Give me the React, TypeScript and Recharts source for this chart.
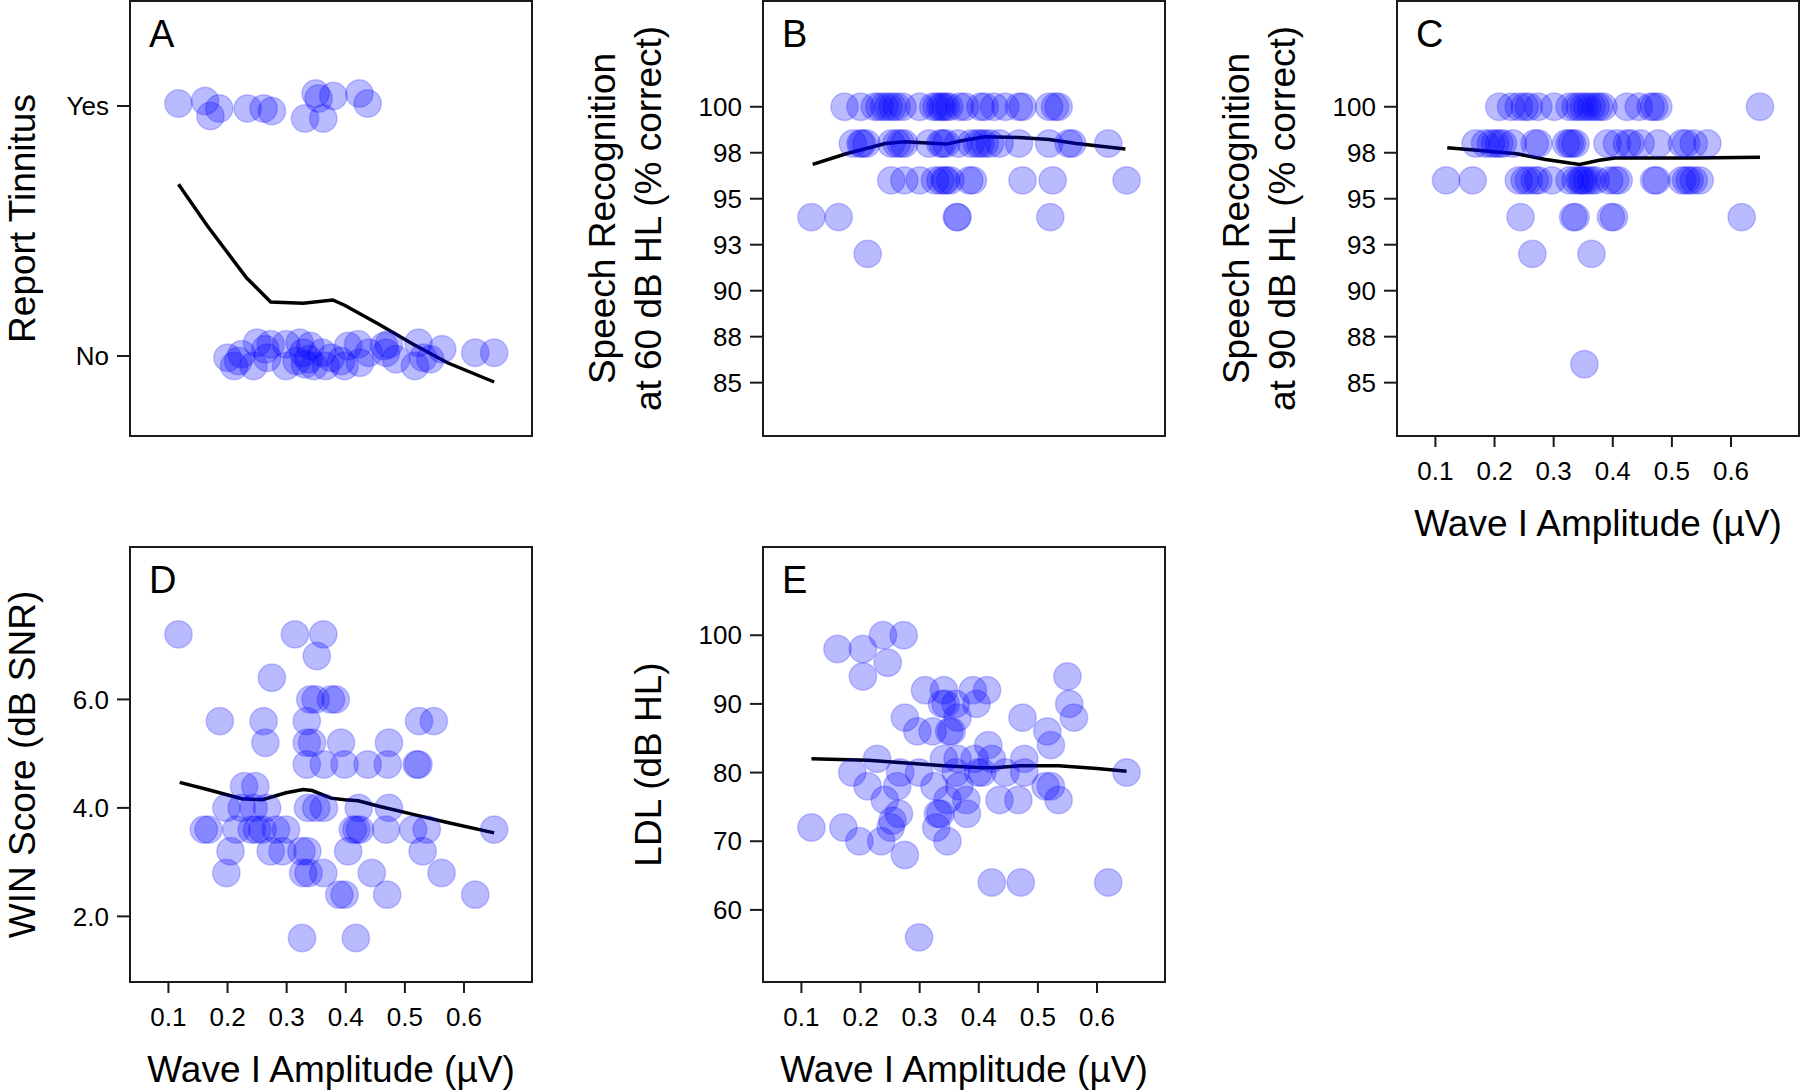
import { ComposedChart, Scatter, Line, XAxis, YAxis, ReferenceArea } from 'recharts'

type Pt = [number, number]

// shared x axis: wave I amplitude (µV)
const ampTicks = [0.1, 0.2, 0.3, 0.4, 0.5, 0.6]
const ampDomain: [number, number] = [0.035, 0.715]

// A — report tinnitus (1 = yes, 0 = no, jittered)
const tinnitusPts: Pt[] = [
  [0.117, 1.01], [0.162, 1.02], [0.171, 0.96], [0.186, 0.99], [0.234, 0.99], [0.261, 0.99], [0.275, 0.98],
  [0.331, 0.95], [0.349, 1.05], [0.354, 1.03], [0.362, 0.95], [0.379, 1.04], [0.423, 1.05], [0.437, 1.01],
  [0.2, -0.007], [0.211, -0.04], [0.218, -0.02], [0.224, 0.007], [0.244, -0.04], [0.25, 0.053], [0.264, 0.027],
  [0.267, -0.007], [0.273, 0.047], [0.299, 0.047], [0.299, -0.04], [0.317, -0.02], [0.322, 0.053], [0.328, 0.013],
  [0.331, -0.033], [0.337, -0.013], [0.34, 0.04], [0.346, -0.04], [0.36, 0.013], [0.366, -0.04], [0.375, -0.007],
  [0.392, -0.02], [0.398, -0.04], [0.404, 0.04], [0.421, 0.047], [0.424, -0.027], [0.439, 0.013], [0.465, 0.04],
  [0.468, 0.013], [0.473, 0.047], [0.485, -0.013], [0.517, -0.04], [0.523, 0.053], [0.531, -0.007],
  [0.543, -0.013], [0.563, 0.027], [0.619, 0.013], [0.651, 0.013],
]
const tinnitusFit: Pt[] = [
  [0.117, 0.687], [0.166, 0.52], [0.232, 0.313], [0.273, 0.216], [0.328, 0.211], [0.378, 0.224],
  [0.398, 0.203], [0.456, 0.127], [0.514, 0.047], [0.572, -0.027], [0.651, -0.104],
]

// B — speech recognition at 60 dB HL, amplitudes per score row
const sr60Rows: [number, number[]][] = [
  [100, [0.173, 0.2, 0.224, 0.232, 0.24, 0.247, 0.254, 0.261, 0.271, 0.3, 0.323, 0.329, 0.335, 0.339, 0.344,
    0.35, 0.368, 0.377, 0.403, 0.41, 0.426, 0.445, 0.468, 0.474, 0.519, 0.529, 0.535]],
  [98, [0.187, 0.2, 0.203, 0.21, 0.252, 0.261, 0.268, 0.274, 0.316, 0.335, 0.339, 0.345, 0.365, 0.387, 0.397,
    0.403, 0.41, 0.419, 0.435, 0.468, 0.519, 0.552, 0.558, 0.619]],
  [96, [0.252, 0.274, 0.3, 0.326, 0.335, 0.342, 0.345, 0.352, 0.384, 0.39, 0.474, 0.525, 0.65]],
  [94, [0.117, 0.163, 0.363, 0.364, 0.521]],
  [92, [0.212]],
]
const sr60Fit: Pt[] = [
  [0.119, 96.87], [0.177, 97.46], [0.242, 98.0], [0.274, 98.1], [0.345, 97.97], [0.371, 98.15],
  [0.41, 98.37], [0.468, 98.33], [0.519, 98.22], [0.565, 98.0], [0.648, 97.7],
]

// C — speech recognition at 90 dB HL
const sr90Rows: [number, number[]][] = [
  [100, [0.208, 0.228, 0.241, 0.251, 0.258, 0.274, 0.301, 0.327, 0.337, 0.344, 0.351, 0.357, 0.364, 0.371,
    0.377, 0.384, 0.424, 0.444, 0.464, 0.47, 0.477, 0.649]],
  [98, [0.168, 0.184, 0.194, 0.201, 0.208, 0.214, 0.231, 0.268, 0.274, 0.321, 0.327, 0.331, 0.337, 0.391,
    0.407, 0.424, 0.43, 0.447, 0.477, 0.517, 0.524, 0.537, 0.56]],
  [96, [0.118, 0.163, 0.241, 0.251, 0.258, 0.268, 0.274, 0.297, 0.327, 0.337, 0.344, 0.347, 0.351, 0.357,
    0.364, 0.371, 0.394, 0.404, 0.41, 0.47, 0.474, 0.517, 0.524, 0.53, 0.537, 0.547]],
  [94, [0.244, 0.333, 0.337, 0.397, 0.402, 0.618]],
  [92, [0.264, 0.364]],
  [86, [0.352]],
]
const sr90Fit: Pt[] = [
  [0.12, 97.77], [0.171, 97.64], [0.238, 97.44], [0.284, 97.15], [0.344, 96.86], [0.377, 97.09],
  [0.404, 97.21], [0.47, 97.21], [0.537, 97.21], [0.649, 97.25],
]

// D — WIN score (dB SNR)
const winPts: Pt[] = [
  [0.117, 7.2], [0.314, 7.2], [0.362, 7.2], [0.351, 6.8], [0.275, 6.4],
  [0.34, 6.0], [0.349, 6.0], [0.375, 6.0], [0.383, 6.0],
  [0.187, 5.6], [0.261, 5.6], [0.334, 5.6], [0.524, 5.6], [0.549, 5.6],
  [0.264, 5.2], [0.334, 5.2], [0.343, 5.2], [0.392, 5.2], [0.473, 5.2],
  [0.334, 4.8], [0.363, 4.8], [0.398, 4.8], [0.437, 4.8], [0.471, 4.8], [0.52, 4.8], [0.523, 4.8],
  [0.228, 4.4], [0.247, 4.4],
  [0.198, 4.0], [0.224, 4.0], [0.244, 4.0], [0.267, 4.0], [0.336, 4.0], [0.35, 4.0], [0.363, 4.0], [0.422, 4.0], [0.473, 4.0],
  [0.16, 3.6], [0.168, 3.6], [0.215, 3.6], [0.241, 3.6], [0.25, 3.6], [0.259, 3.6], [0.282, 3.6], [0.299, 3.6],
  [0.412, 3.6], [0.418, 3.6], [0.424, 3.6], [0.468, 3.6], [0.514, 3.6], [0.537, 3.6], [0.651, 3.6],
  [0.205, 3.2], [0.273, 3.2], [0.293, 3.2], [0.325, 3.2], [0.335, 3.2], [0.404, 3.2], [0.53, 3.2],
  [0.198, 2.8], [0.328, 2.8], [0.337, 2.8], [0.362, 2.8], [0.444, 2.8], [0.562, 2.8],
  [0.389, 2.4], [0.398, 2.4], [0.47, 2.4], [0.619, 2.4],
  [0.326, 1.6], [0.417, 1.6],
]
const winFit: Pt[] = [
  [0.119, 4.47], [0.166, 4.34], [0.224, 4.17], [0.259, 4.15], [0.299, 4.28], [0.328, 4.34], [0.343, 4.32],
  [0.375, 4.18], [0.398, 4.15], [0.421, 4.13], [0.456, 4.03], [0.514, 3.88], [0.572, 3.73], [0.651, 3.54],
]

// E — loudness discomfort level (dB HL)
const ldlPts: Pt[] = [
  [0.117, 72], [0.161, 98], [0.171, 72], [0.186, 80], [0.198, 70], [0.204, 98], [0.204, 94], [0.212, 78],
  [0.228, 82], [0.235, 70], [0.238, 100], [0.246, 96], [0.241, 76], [0.251, 72], [0.254, 73], [0.262, 78],
  [0.265, 74], [0.267, 80], [0.273, 100], [0.275, 68], [0.275, 88], [0.299, 80], [0.299, 56], [0.296, 86],
  [0.309, 92], [0.322, 86], [0.325, 78], [0.328, 72], [0.331, 74], [0.335, 74], [0.338, 90], [0.341, 92],
  [0.341, 82], [0.344, 90], [0.347, 76], [0.347, 70], [0.35, 86], [0.354, 86], [0.361, 90], [0.364, 88],
  [0.361, 80], [0.364, 82], [0.367, 78], [0.379, 76], [0.38, 74], [0.39, 92], [0.396, 90], [0.393, 82],
  [0.399, 80], [0.406, 80], [0.414, 92], [0.416, 84], [0.422, 82], [0.422, 64], [0.435, 76], [0.445, 80],
  [0.467, 76], [0.471, 64], [0.474, 88], [0.477, 82], [0.477, 80], [0.513, 78], [0.516, 86], [0.522, 84],
  [0.522, 78], [0.535, 76], [0.55, 94], [0.553, 90], [0.561, 88], [0.619, 64], [0.65, 80],
]
const ldlFit: Pt[] = [
  [0.117, 82.0], [0.212, 81.8], [0.277, 81.4], [0.341, 81.0], [0.406, 80.7], [0.425, 80.7],
  [0.471, 81.0], [0.535, 81.0], [0.6, 80.6], [0.65, 80.2],
]

const rowsToPts = (rows: [number, number[]][]): Pt[] =>
  rows.flatMap(([score, amps]) => amps.map((a) => [a, score] as Pt))

const BOX_W = 402
const BOX_H = 435
const INK = '#1a1a1a'
const FONT = '"Liberation Sans", Arial, sans-serif'

interface PanelProps {
  left: number
  top: number
  yWidth: number
  titleGap?: number
  xLabels: boolean
  letter: string
  yTitle: string[]
  yDomain: [number, number]
  yTicks: number[]
  yFormat: (v: number) => string
  points: Pt[]
  fit: Pt[]
}

function Dot(p: any) {
  return (
    <circle cx={p.cx} cy={p.cy} r={13.7} fill="#0000ff" fillOpacity={0.27}
      stroke="#0000ff" strokeOpacity={0.2} strokeWidth={1.5} />
  )
}

function Panel({ left, top, yWidth, titleGap = 102, xLabels, letter, yTitle, yDomain, yTicks, yFormat, points, fit }: PanelProps) {
  const xHeight = xLabels ? 125 : 20
  const width = yWidth + BOX_W + 3
  const height = 1 + BOX_H + xHeight
  const dots = points.map(([x, y]) => ({ x, y }))
  const curve = fit.map(([x, y]) => ({ x, y }))
  const midY = 1 + BOX_H / 2

  // rotated y title, one or two lines
  const yTitleContent = () => (
    <g>
      {yTitle.map((t, i) => {
        const cx = yWidth - titleGap - (yTitle.length - 1 - i) * 46
        return (
          <text key={i} x={cx} y={midY} transform={`rotate(-90 ${cx} ${midY})`}
            textAnchor="middle" fontSize={37} fill="#000">{t}</text>
        )
      })}
    </g>
  )

  const xTitleContent = () => (
    <text x={yWidth + BOX_W / 2} y={1 + BOX_H + 100} textAnchor="middle" fontSize={37} fill="#000">
      Wave I Amplitude (µV)
    </text>
  )

  return (
    <div style={{ position: 'absolute', left, top }}>
      <ComposedChart width={width} height={height} margin={{ top: 1, right: 3, bottom: 0, left: 0 }}>
        <XAxis
          type="number"
          dataKey="x"
          domain={ampDomain}
          ticks={ampTicks}
          allowDataOverflow
          interval={0}
          height={xHeight}
          axisLine={false}
          tickLine={{ stroke: INK, strokeWidth: 2 }}
          tickSize={11}
          tickMargin={15}
          tick={xLabels ? { fill: '#000', fontSize: 26 } : false}
          tickFormatter={(v: number) => v.toFixed(1)}
          label={xLabels ? { content: xTitleContent } : undefined}
        />
        <YAxis
          type="number"
          dataKey="y"
          domain={yDomain}
          ticks={yTicks}
          allowDataOverflow
          interval={0}
          width={yWidth}
          axisLine={false}
          tickLine={{ stroke: INK, strokeWidth: 2 }}
          tickSize={13}
          tickMargin={8}
          tick={{ fill: '#000', fontSize: 26 }}
          tickFormatter={yFormat}
          label={{ content: yTitleContent }}
        />
        <Scatter data={dots} shape={Dot} isAnimationActive={false} />
        <Line
          data={curve}
          dataKey="y"
          type="linear"
          stroke="#000"
          strokeWidth={3.5}
          dot={false}
          activeDot={false}
          isAnimationActive={false}
        />
        <ReferenceArea
          x1={ampDomain[0]}
          x2={ampDomain[1]}
          y1={yDomain[0]}
          y2={yDomain[1]}
          ifOverflow="visible"
          fill="none"
          stroke={INK}
          strokeWidth={2}
          label={{ value: letter, position: 'insideTopLeft', offset: 19, fontSize: 38, fill: '#000' }}
        />
      </ComposedChart>
    </div>
  )
}

const srTicks = [85, 87.5, 90, 92.5, 95, 97.5, 100]
const srDomain: [number, number] = [82.1, 105.75]
const round0 = (v: number) => String(Math.round(v))

export default function App() {
  return (
    <div style={{ position: 'absolute', left: 0, top: 0, width: 1800, height: 1092, background: '#fff', overflow: 'hidden', fontFamily: FONT }}>
      <Panel left={0} top={0} yWidth={130} titleGap={95} xLabels={false} letter="A" yTitle={['Report Tinnitus']}
        yDomain={[-0.32, 1.42]} yTicks={[0, 1]} yFormat={(v) => (v === 1 ? 'Yes' : 'No')}
        points={tinnitusPts} fit={tinnitusFit} />
      <Panel left={563} top={0} yWidth={200} xLabels={false} letter="B"
        yTitle={['Speech Recognition', 'at 60 dB HL (% correct)']}
        yDomain={srDomain} yTicks={srTicks} yFormat={round0}
        points={rowsToPts(sr60Rows)} fit={sr60Fit} />
      <Panel left={1197} top={0} yWidth={200} xLabels letter="C"
        yTitle={['Speech Recognition', 'at 90 dB HL (% correct)']}
        yDomain={srDomain} yTicks={srTicks} yFormat={round0}
        points={rowsToPts(sr90Rows)} fit={sr90Fit} />
      <Panel left={0} top={546} yWidth={130} titleGap={95} xLabels letter="D" yTitle={['WIN Score (dB SNR)']}
        yDomain={[0.79, 8.81]} yTicks={[2, 4, 6]} yFormat={(v) => v.toFixed(1)}
        points={winPts} fit={winFit} />
      <Panel left={563} top={546} yWidth={200} xLabels letter="E" yTitle={['LDL (dB HL)']}
        yDomain={[49.5, 112.85]} yTicks={[60, 70, 80, 90, 100]} yFormat={round0}
        points={ldlPts} fit={ldlFit} />
    </div>
  )
}
